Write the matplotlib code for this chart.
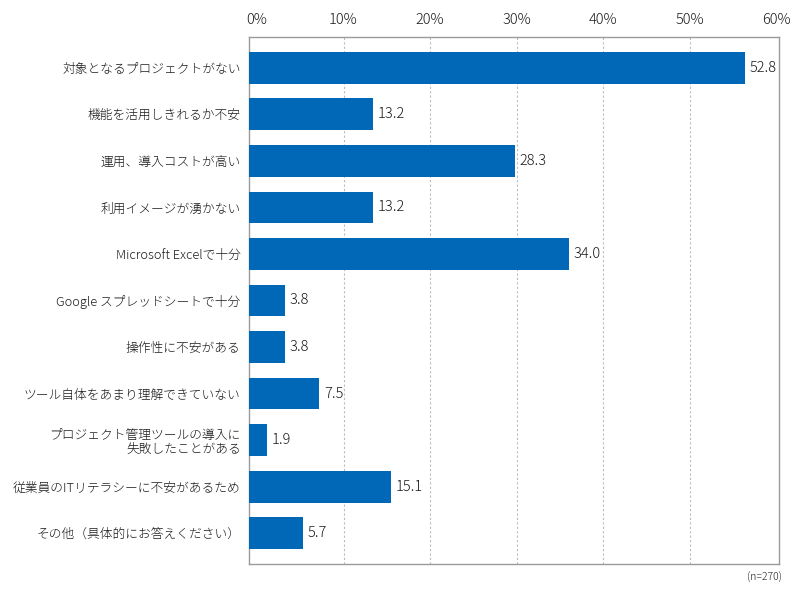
import matplotlib
matplotlib.use("Agg")
import matplotlib.pyplot as plt

plt.rcParams['font.family'] = ['Noto Sans CJK JP', 'DejaVu Sans']

categories = [
    "対象となるプロジェクトがない",
    "機能を活用しきれるか不安",
    "運用、導入コストが高い",
    "利用イメージが湧かない",
    "Microsoft Excelで十分",
    "Google スプレッドシートで十分",
    "操作性に不安がある",
    "ツール自体をあまり理解できていない",
    "プロジェクト管理ツールの導入に\n失敗したことがある",
    "従業員のITリテラシーに不安があるため",
    "その他（具体的にお答えください）",
]
values = [52.8, 13.2, 28.3, 13.2, 34.0, 3.8, 3.8, 7.5, 1.9, 15.1, 5.7]
value_labels = ["52.8", "13.2", "28.3", "13.2", "34.0", "3.8", "3.8", "7.5", "1.9", "15.1", "5.7"]
tick_values = [0, 10, 20, 30, 40, 50, 60]
tick_labels = ["0%", "10%", "20%", "30%", "40%", "50%", "60%"]
note = "(n=270)"

fig = plt.figure(figsize=(8, 6), dpi=100)
ax = fig.add_axes([249/800, 1-564/600, (779-249)/800, (564-37)/600])

bar_color = "#0068B7"
frame_color = "#9a9a9a"
text_color = "#1a1a1a"

y = list(range(len(categories)))
ax.barh(y, values, height=0.68, color=bar_color, zorder=3)
ax.set_xlim(0, 56.4)
ax.set_ylim(len(categories) - 0.34, -0.66)
ax.set_yticks(y)
ax.set_yticklabels(categories, fontsize=9.2, color=text_color, ha="right",
                   linespacing=1.1, fontweight="light")

for yi, v, lab in zip(y, values, value_labels):
    ax.annotate(lab, (v, yi), xytext=(3.5, 0), textcoords="offset points",
                va="center", ha="left", fontsize=10.5, color=text_color,
                fontweight="light", zorder=4)

for s in ax.spines.values():
    s.set_color(frame_color)
    s.set_linewidth(1.0)

# Percentage scale on top
ax2 = ax.twiny()
ax2.set_xlim(-0.92, 60.3)
ax2.set_xticks(tick_values)
ax2.set_xticklabels(tick_labels, fontsize=10.5, color=text_color, fontweight="light")
ax2.tick_params(axis='x', length=0, pad=7)
for t in tick_values[1:-1]:
    ax2.axvline(t, color="#bbbbbb", linestyle=(0, (2, 2)), linewidth=0.8, zorder=0)
for s in ax2.spines.values():
    s.set_visible(False)

ax.tick_params(axis='y', length=0, pad=6)
ax.tick_params(axis='x', bottom=False, top=False, labelbottom=False, labeltop=False)
ax.set_zorder(ax2.get_zorder() + 1)
ax.patch.set_visible(False)

fig.text(782/800, 1-577/600, note, ha="right", va="center", fontsize=7.5,
         color=text_color, fontweight="light")

fig.savefig("out.png", dpi=100)
